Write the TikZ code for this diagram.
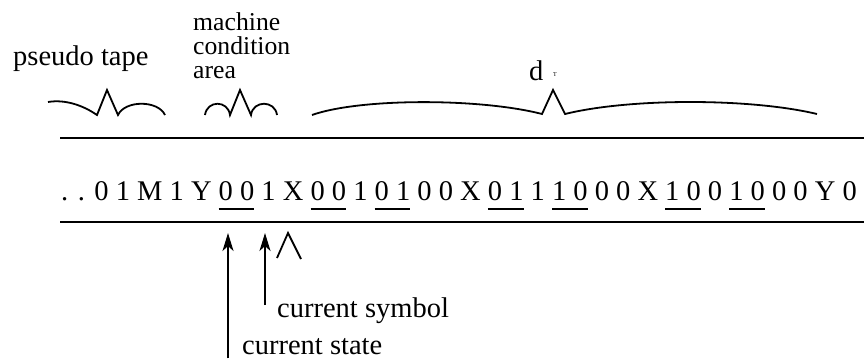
\documentclass[tikz,border=0pt]{standalone}
\usepackage{fontspec}
\setmainfont{Liberation Serif}
\usetikzlibrary{positioning, calc, arrows.meta}
\newcommand{\tapemark}[1]{\setbox0\hbox{#1}\rlap{\rule[-0.36em]{\wd0}{0.07em}}\box0\relax}

\begin{document}
\begin{tikzpicture}[
        x=1pt, y=-1pt,
        font=\fontsize{28.5}{30}\selectfont,
        txt/.style={inner sep=0pt, anchor=base west},
        tapeline/.style={line width=2.6pt},
        brace/.style={line width=1.8pt, line join=miter},
        arrow/.style={-{Stealth[length=18pt, width=11pt, inset=5pt]}, line width=2pt}
    ]
        \useasboundingbox (0,0) rectangle (864,359);

        % Nodes
        \node [txt] (pseudo) at (13,65) {pseudo tape};
        \node [txt, align=left, font=\fontsize{25.7}{24}\selectfont] (mca) at (193,78) {machine\\condition\\area};
        \node [txt] (d) at (529,80) {d};
        \node [txt, font=\fontsize{6}{6}\selectfont] (dsub) at (553,76) {T};
        \node [txt] (tape) at (61,200) {. . 0 1 M 1 Y \tapemark{0 0} 1 X \tapemark{0 0} 1 \tapemark{0 1} 0 0 X \tapemark{0 1} 1 \tapemark{1 0} 0 0 X \tapemark{1 0} 0 \tapemark{1 0} 0 0 Y 0};
        \node [txt] (symbol) at (277,317) {current symbol};
        \node [txt] (state) at (242,354) {current state};

        \coordinate (statetip) at (228,233);
        \coordinate (symboltip) at (265,233);

        % Tape borders
        \draw [tapeline] (60,138) -- (864,138);
        \draw [tapeline] (60,222) -- (864,222);

        % Braces
        \draw [brace] (48,102) .. controls (66,99) and (84,106) .. (97,115) -- (107,90) -- (118,115)
            .. controls (125,100) and (158,100) .. (165,115);
        \draw [brace] (205,115) .. controls (207,100) and (228,100) .. (230,115) -- (240,90) -- (251,115)
            .. controls (253,100) and (275,100) .. (277,115);
        \draw [brace] (312,115) .. controls (360,98) and (480,98) .. (542,114) -- (553,90) -- (565,114)
            .. controls (630,98) and (750,98) .. (817,114);

        % Edges
        \draw [arrow] (symboltip |- symbol.north) ++(0,8) -- (symboltip);
        \draw [arrow] (statetip |- state.south) ++(0,4) -- (statetip);
        \draw [brace] (277,258) -- (288,233) -- (301,259);

    \end{tikzpicture}
\end{document}
